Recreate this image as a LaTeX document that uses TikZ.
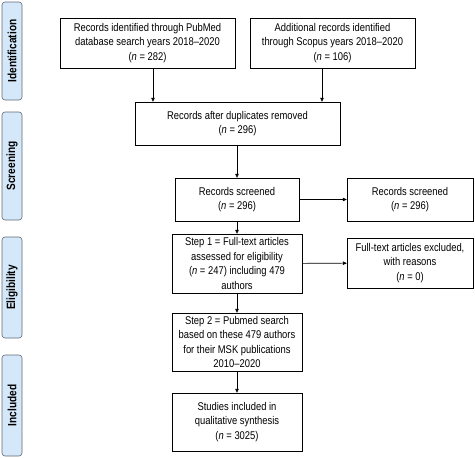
\documentclass[tikz,border=0pt]{standalone}
\usepackage{fontspec}
\setmainfont[FakeStretch=0.84]{Liberation Sans}
\definecolor{PhaseBlue}{RGB}{212, 232, 250}
\definecolor{PhaseLine}{RGB}{95, 105, 118}
\usetikzlibrary{arrows.meta, positioning}

\begin{document}
\begin{tikzpicture}[x=1pt, y=-1pt,
                box/.style={draw, rectangle, inner sep=0pt, align=center, font=\fontsize{11.2}{14.5}\selectfont},
                phase/.style={draw=PhaseLine, fill=PhaseBlue, rectangle, rounded corners=3pt, line width=0.6pt, inner sep=0pt},
                tag/.style={rotate=90, font=\bfseries\fontsize{12}{14}\selectfont},
                edge/.style={-{Triangle[length=4pt, width=3.5pt]}, line width=0.6pt}]

                \useasboundingbox (0,0) rectangle (475,458);

                % Side labels
                \node[phase, minimum width=20pt, minimum height=98pt] (idf) at (12,51) {};
                \node[phase, minimum width=20pt, minimum height=108pt] (scr) at (12,166) {};
                \node[phase, minimum width=20pt, minimum height=101pt] (elg) at (12,287.5) {};
                \node[phase, minimum width=20pt, minimum height=101pt] (inc) at (12,405.5) {};
                \node[tag] at (idf) {Identification};
                \node[tag] at (scr) {Screening};
                \node[tag] at (elg) {Eligibility};
                \node[tag] at (inc) {Included};

                % Identification
                \node[box, minimum width=175pt, minimum height=50pt] (pubmed) at (147.5,43) {Records identified through PubMed\\database search years 2018--2020\\(\emph{n} = 282)};
                \node[box, minimum width=165pt, minimum height=50pt] (scopus) at (332.5,43) {Additional records identified\\through Scopus years 2018--2020\\(\emph{n} = 106)};

                % Screening
                \node[box, minimum width=205pt, minimum height=43pt] (dupl) at (237.5,123.5) {Records after duplicates removed\\(\emph{n} = 296)};
                \node[box, minimum width=124pt, minimum height=43pt] (screen) at (237,199.5) {Records screened\\(\emph{n} = 296)};
                \node[box, minimum width=126pt, minimum height=43pt] (screenr) at (410,199.5) {Records screened\\(\emph{n} = 296)};

                % Eligibility
                \node[box, minimum width=130pt, minimum height=59pt] (step1) at (237,263.5) {Step 1 = Full-text articles\\assessed for eligibility\\(\emph{n} = 247) including 479\\authors};
                \node[box, minimum width=126pt, minimum height=50pt] (excl) at (410,263) {Full-text articles excluded,\\with reasons\\(\emph{n} = 0)};
                \node[box, minimum width=130pt, minimum height=58pt] (step2) at (237,342) {Step 2 = Pubmed search\\based on these 479 authors\\for their MSK publications\\2010--2020};

                % Included
                \node[box, minimum width=130pt, minimum height=58pt] (incl) at (237,422) {Studies included in\\qualitative synthesis\\(\emph{n} = 3025)};

                % Edges
                \draw[edge] (pubmed.south -| 153,0) -- (dupl.north -| 153,0);
                \draw[edge] (scopus.south -| 322,0) -- (dupl.north -| 322,0);
                \draw[edge] (dupl.south -| screen) -- (screen);
                \draw[edge] (screen) -- (screenr);
                \draw[edge] (screen) -- (step1);
                \draw[edge] (step1) -- (excl);
                \draw[edge] (step1) -- (step2);
                \draw[edge] (step2) -- (incl);
            \end{tikzpicture}
\end{document}
